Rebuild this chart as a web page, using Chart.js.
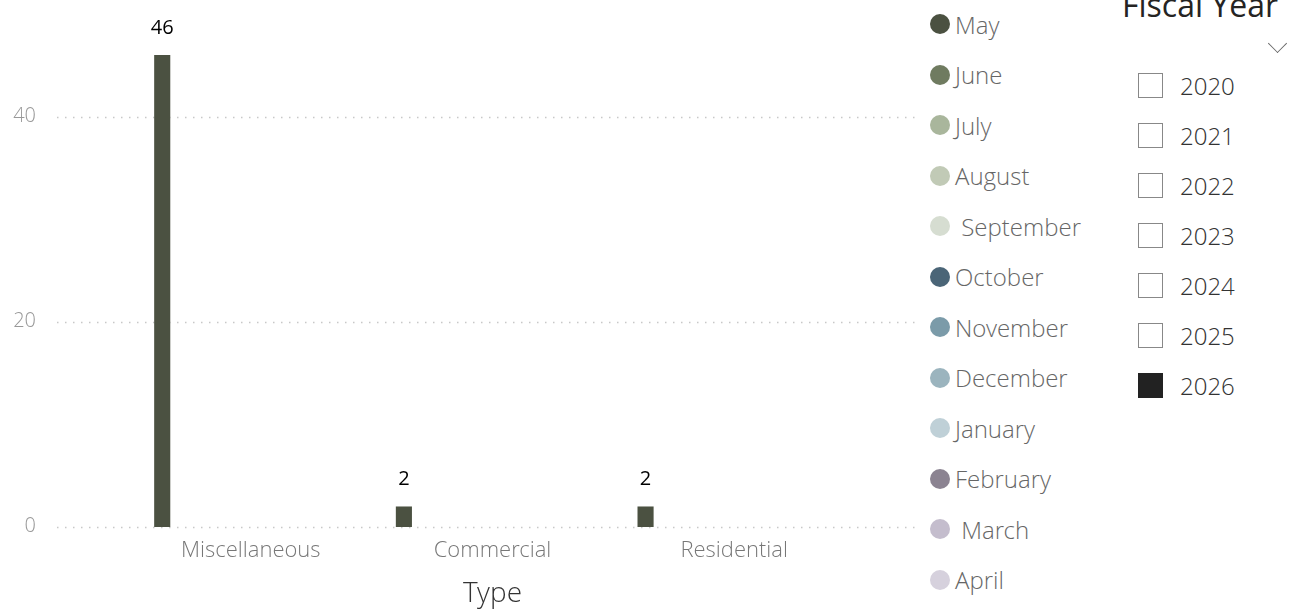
<!DOCTYPE html>
<html>
<head>
<meta charset="utf-8">
<script src="https://cdn.jsdelivr.net/npm/chart.js@4.4.1/dist/chart.umd.min.js"></script>
<style>
  body { margin: 0; background: #fff; font-family: "Segoe UI Light", "Open Sans Light", "Open Sans", sans-serif; overflow: hidden; }
  #wrap { position: absolute; left: 0; top: 0; width: 920px; height: 613px; }
  #legend { position: absolute; left: 930px; top: 0; }
  .leg { position: absolute; left: 0; height: 30px; display: flex; align-items: center; white-space: pre;
         font-size: 24px; font-weight: 300; color: #666; }
  .leg i { display: inline-block; width: 20px; height: 20px; border-radius: 50%; margin-right: 5px; }
  #slicer { position: absolute; left: 1100px; top: 0; width: 202px; height: 613px; }
  #slicer .title { position: absolute; left: 22px; top: -17px; font-size: 32px; color: #252423; white-space: nowrap;
                   font-family: "Segoe UI", "Open Sans", sans-serif; }
  #slicer .chev { position: absolute; left: 170px; top: 36px; width: 14px; height: 14px;
                  border-right: 1.5px solid #666; border-bottom: 1.5px solid #666; transform: rotate(45deg) scale(0.9,0.9); }
  .yr { position: absolute; left: 38px; height: 30px; display: flex; align-items: center; font-size: 24px; font-weight: 300; color: #333; }
  .yr b { display: inline-block; width: 23px; height: 23px; border: 1.5px solid #888; margin-right: 17px; box-sizing: content-box; }
  .yr b.on { background: #222; border-color: #222; }
</style>
</head>
<body>
<div id="wrap"><canvas id="chart" width="920" height="613"></canvas></div>
<div id="legend"></div>
<div id="slicer"><div class="title">Fiscal Year</div><div class="chev"></div></div>
<script>
// Type counts by month, fiscal year 2026
const types = ["Miscellaneous", "Commercial", "Residential"];
const months = ["May", "June", "July", "August", " September", "October", "November", "December", "January", "February", " March", "April"];
const monthColors = ["#4b5141", "#6f7b60", "#a9b69c", "#c1cab6", "#d6ddd1", "#4a6577", "#7b9ba9", "#9bb4be", "#bfd0d7", "#8b8391", "#c4bdcd", "#d6d1dd"];
const mayValues = [46, 2, 2];
const emptyValues = [null, null, null];
const years = ["2020", "2021", "2022", "2023", "2024", "2025", "2026"];
const selectedYear = "2026";
const yTicks = [0, 20, 40];

const FONT = '"Segoe UI Light", "Open Sans Light", "Open Sans", sans-serif';

// legend + slicer
const legend = document.getElementById('legend');
months.forEach((m, i) => {
    const d = document.createElement('div');
    d.className = 'leg';
    d.style.top = (9 + i * 50.5) + 'px';
    d.innerHTML = `<i style="background:${monthColors[i]}"></i>${m}`;
    legend.appendChild(d);
});
const slicer = document.getElementById('slicer');
years.forEach((y, i) => {
    const d = document.createElement('div');
    d.className = 'yr';
    d.style.top = (70 + i * 50) + 'px';
    d.innerHTML = `<b class="${y === selectedYear ? 'on' : ''}"></b>${y}`;
    slicer.appendChild(d);
});

// dotted gridlines running past the bar area
const dottedGrid = {
    id: 'dottedGrid',
    beforeDatasetsDraw(chart) {
        const ctx = chart.ctx;
        const y = chart.scales.y;
        ctx.save();
        ctx.strokeStyle = '#c8c8c8';
        ctx.lineWidth = 1.5;
        ctx.setLineDash([1.5, 6.5]);
        yTicks.forEach(v => {
            const py = Math.round(y.getPixelForValue(v)) + 0.5;
            ctx.beginPath();
            ctx.moveTo(57, py);
            ctx.lineTo(918, py);
            ctx.stroke();
        });
        ctx.restore();
    }
};

// value labels above bars
const barLabels = {
    id: 'barLabels',
    afterDatasetsDraw(chart) {
        const ctx = chart.ctx;
        ctx.save();
        ctx.font = '20px "Segoe UI", "Open Sans", sans-serif';
        ctx.fillStyle = '#000';
        ctx.textAlign = 'center';
        ctx.textBaseline = 'middle';
        chart.data.datasets.forEach((ds, di) => {
            chart.getDatasetMeta(di).data.forEach((bar, i) => {
                if (ds.data[i] == null) return;
                ctx.fillText(ds.data[i], bar.x, bar.y - 27);
            });
        });
        ctx.restore();
    }
};

const datasets = months.map((m, i) => ({
    label: m.trim(),
    data: i === 0 ? mayValues : emptyValues,
    backgroundColor: monthColors[i],
    categoryPercentage: 0.8,
    barPercentage: 1.0
}));

new Chart(document.getElementById('chart'), {
    type: 'bar',
    data: { labels: types, datasets: datasets },
    options: {
        responsive: false,
        animation: false,
        layout: { padding: { top: 14, right: 65, bottom: 2, left: 0 } },
        plugins: { legend: { display: false }, tooltip: { enabled: false } },
        scales: {
            x: {
                grid: { display: false },
                border: { display: false },
                ticks: { color: '#777', padding: 3, font: { size: 22, family: FONT } },
                title: { display: true, text: 'Type', color: '#333', padding: { top: 10, bottom: 0 },
                         font: { size: 28, family: FONT } }
            },
            y: {
                min: 0,
                max: 50,
                afterBuildTicks(scale) { scale.ticks = yTicks.map(v => ({ value: v })); },
                afterFit(scale) { scale.width = 130; scale.paddingTop = 0; scale.paddingBottom = 0; },
                grid: { display: false },
                border: { display: false },
                ticks: { color: '#999', padding: 86, font: { size: 20, family: FONT } }
            }
        }
    },
    plugins: [dottedGrid, barLabels]
});
</script>
</body>
</html>
